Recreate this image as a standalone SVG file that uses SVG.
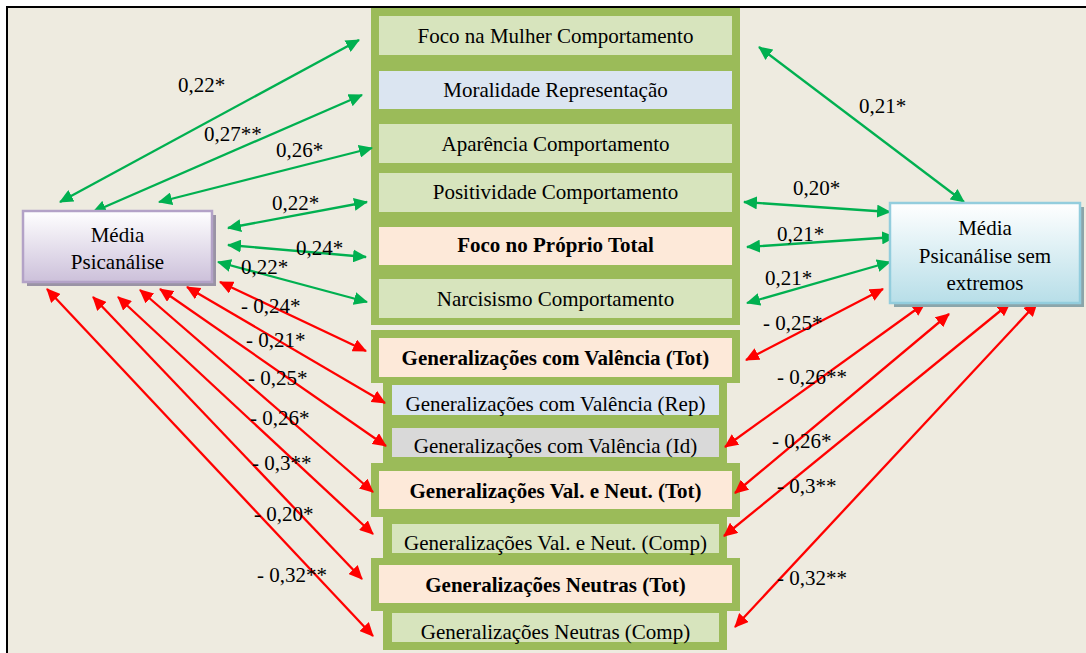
<svg xmlns="http://www.w3.org/2000/svg" width="1086" height="653" viewBox="0 0 1086 653">
<defs>
<linearGradient id="gLeft" x1="0" y1="0" x2="0" y2="1"><stop offset="0" stop-color="#FFFFFF"/><stop offset="1" stop-color="#CCC0DA"/></linearGradient>
<linearGradient id="gRight" x1="0" y1="0" x2="0" y2="1"><stop offset="0" stop-color="#FFFFFF"/><stop offset="1" stop-color="#B7DEE8"/></linearGradient>
<marker id="ag" viewBox="0 0 14 13" markerUnits="userSpaceOnUse" markerWidth="14" markerHeight="13" refX="13" refY="6.5" orient="auto-start-reverse"><path d="M0,0 L14,6.5 L0,13 Z" fill="#00B050"/></marker>
<marker id="ar" viewBox="0 0 14 13" markerUnits="userSpaceOnUse" markerWidth="14" markerHeight="13" refX="13" refY="6.5" orient="auto-start-reverse"><path d="M0,0 L14,6.5 L0,13 Z" fill="#FF0000"/></marker>
</defs>
<style>
text{font-family:"Liberation Serif","Times New Roman",serif;font-size:21px;fill:#000}
.c{text-anchor:middle}
.b{font-weight:bold}
.col{fill:#9BBB59}
.lg{fill:#D7E4BD}
.bl{fill:#DBE5F1}
.pe{fill:#FDE9D9}
.gr{fill:#D9D9D9}
.g{stroke:#00B050;stroke-width:2.3;fill:none;marker-start:url(#ag);marker-end:url(#ag)}
.r{stroke:#FF0000;stroke-width:2.3;fill:none;marker-start:url(#ar);marker-end:url(#ar)}
</style>
<rect x="0" y="0" width="1086" height="653" fill="#FFFFFF"/>
<rect x="7" y="7" width="1090" height="660" fill="#EEEBE0"/>
<g id="column">
<rect class="col" x="371" y="8" width="369" height="317"/>
<rect class="col" x="371" y="330" width="369" height="53"/>
<rect class="col" x="383" y="383" width="344" height="80"/>
<rect class="col" x="371" y="463" width="369" height="54"/>
<rect class="col" x="383" y="517" width="344" height="41"/>
<rect class="col" x="371" y="558" width="369" height="53"/>
<rect class="col" x="383" y="611" width="344" height="39"/>
</g>
<g id="n-foco-mulher"><rect class="lg" x="379" y="16" width="353" height="39"/><text class="c" x="555.5" y="43">Foco na Mulher Comportamento</text></g>
<g id="n-moralidade"><rect class="bl" x="379" y="71" width="353" height="38"/><text class="c" x="555.5" y="97">Moralidade Representação</text></g>
<g id="n-aparencia"><rect class="lg" x="379" y="124" width="353" height="39"/><text class="c" x="555.5" y="151">Aparência Comportamento</text></g>
<g id="n-positividade"><rect class="lg" x="379" y="173" width="353" height="39"/><text class="c" x="555.5" y="199">Positividade Comportamento</text></g>
<g id="n-foco-proprio"><rect class="pe" x="379" y="227" width="353" height="38"/><text class="c b" x="555.5" y="252">Foco no Próprio Total</text></g>
<g id="n-narcisismo"><rect class="lg" x="379" y="279" width="353" height="39"/><text class="c" x="555.5" y="306">Narcisismo Comportamento</text></g>
<g id="n-gen-val-tot"><rect class="pe" x="379" y="338" width="353" height="39"/><text class="c b" x="555.5" y="365">Generalizações com Valência (Tot)</text></g>
<g id="n-gen-val-rep"><rect class="bl" x="392" y="385" width="327" height="30"/><text class="c" x="555.5" y="411">Generalizações com Valência (Rep)</text></g>
<g id="n-gen-val-id"><rect class="gr" x="392" y="428" width="327" height="29"/><text class="c" x="555.5" y="453">Generalizações com Valência (Id)</text></g>
<g id="n-gen-valneut-tot"><rect class="pe" x="379" y="471" width="353" height="38"/><text class="c b" x="555.5" y="498">Generalizações Val. e Neut. (Tot)</text></g>
<g id="n-gen-valneut-comp"><rect class="lg" x="392" y="524" width="327" height="29"/><text class="c" x="555.5" y="550">Generalizações Val. e Neut. (Comp)</text></g>
<g id="n-gen-neut-tot"><rect class="pe" x="379" y="565" width="353" height="38"/><text class="c b" x="555.5" y="592">Generalizações Neutras (Tot)</text></g>
<g id="n-gen-neut-comp"><rect class="lg" x="392" y="613" width="327" height="29"/><text class="c" x="555.5" y="639">Generalizações Neutras (Comp)</text></g>
<g id="connectors">
<line class="g" x1="60" y1="202" x2="359" y2="40"/>
<line class="g" x1="93" y1="212" x2="362" y2="95"/>
<line class="g" x1="159" y1="202" x2="372" y2="148"/>
<line class="g" x1="228" y1="228" x2="367" y2="202"/>
<line class="g" x1="228" y1="245" x2="366" y2="257"/>
<line class="g" x1="218" y1="262" x2="367" y2="302"/>
<line class="r" x1="220" y1="282" x2="366" y2="351"/>
<line class="r" x1="187" y1="287" x2="385" y2="403"/>
<line class="r" x1="160" y1="289" x2="386" y2="446"/>
<line class="r" x1="140" y1="290" x2="373" y2="492"/>
<line class="r" x1="118" y1="297" x2="373" y2="534"/>
<line class="r" x1="93" y1="297" x2="362" y2="579"/>
<line class="r" x1="47" y1="289" x2="373" y2="636"/>
<line class="g" x1="759" y1="47" x2="964" y2="202"/>
<line class="g" x1="744" y1="202" x2="890" y2="212"/>
<line class="g" x1="747" y1="247" x2="895" y2="237"/>
<line class="g" x1="747" y1="303" x2="890" y2="262"/>
<line class="r" x1="746" y1="360" x2="883" y2="289"/>
<line class="r" x1="725" y1="447" x2="925" y2="303"/>
<line class="r" x1="735" y1="493" x2="949" y2="314"/>
<line class="r" x1="724" y1="536" x2="1010" y2="303"/>
<line class="r" x1="735" y1="627" x2="1037" y2="303"/>
</g>
<g id="n-media-psicanalise">
<rect x="27" y="215" width="189" height="71" fill="#9A93A5"/>
<rect x="23" y="211" width="189" height="71" fill="url(#gLeft)" stroke="#B3A2C7" stroke-width="2.5"/>
<text class="c" x="117.5" y="242">Média</text>
<text class="c" x="117.5" y="269">Psicanálise</text>
</g>
<g id="n-media-psicanalise-sem-extremos">
<rect x="894" y="207" width="190" height="100" fill="#8BA5AA"/>
<rect x="890" y="203" width="190" height="100" fill="url(#gRight)" stroke="#93CDDD" stroke-width="2.5"/>
<text class="c" x="985" y="235">Média</text>
<text class="c" x="985" y="263">Psicanálise sem</text>
<text class="c" x="985" y="290">extremos</text>
</g>
<g id="labels">
<text x="178" y="92">0,22*</text>
<text x="204" y="141">0,27**</text>
<text x="276" y="157">0,26*</text>
<text x="272" y="210">0,22*</text>
<text x="296" y="255">0,24*</text>
<text x="241" y="274">0,22*</text>
<text x="241" y="313">- 0,24*</text>
<text x="246" y="347">- 0,21*</text>
<text x="248" y="385">- 0,25*</text>
<text x="250" y="425">- 0,26*</text>
<text x="252" y="470">- 0,3**</text>
<text x="254" y="521">- 0,20*</text>
<text x="257" y="582">- 0,32**</text>
<text x="859" y="113">0,21*</text>
<text x="793" y="195">0,20*</text>
<text x="777" y="241">0,21*</text>
<text x="765" y="285">0,21*</text>
<text x="763" y="330">- 0,25*</text>
<text x="777" y="384">- 0,26**</text>
<text x="772" y="448">- 0,26*</text>
<text x="777" y="493">- 0,3**</text>
<text x="777" y="585">- 0,32**</text>
</g>
<path d="M7,653 L7,7 L1086,7" fill="none" stroke="#000000" stroke-width="2"/>
</svg>
